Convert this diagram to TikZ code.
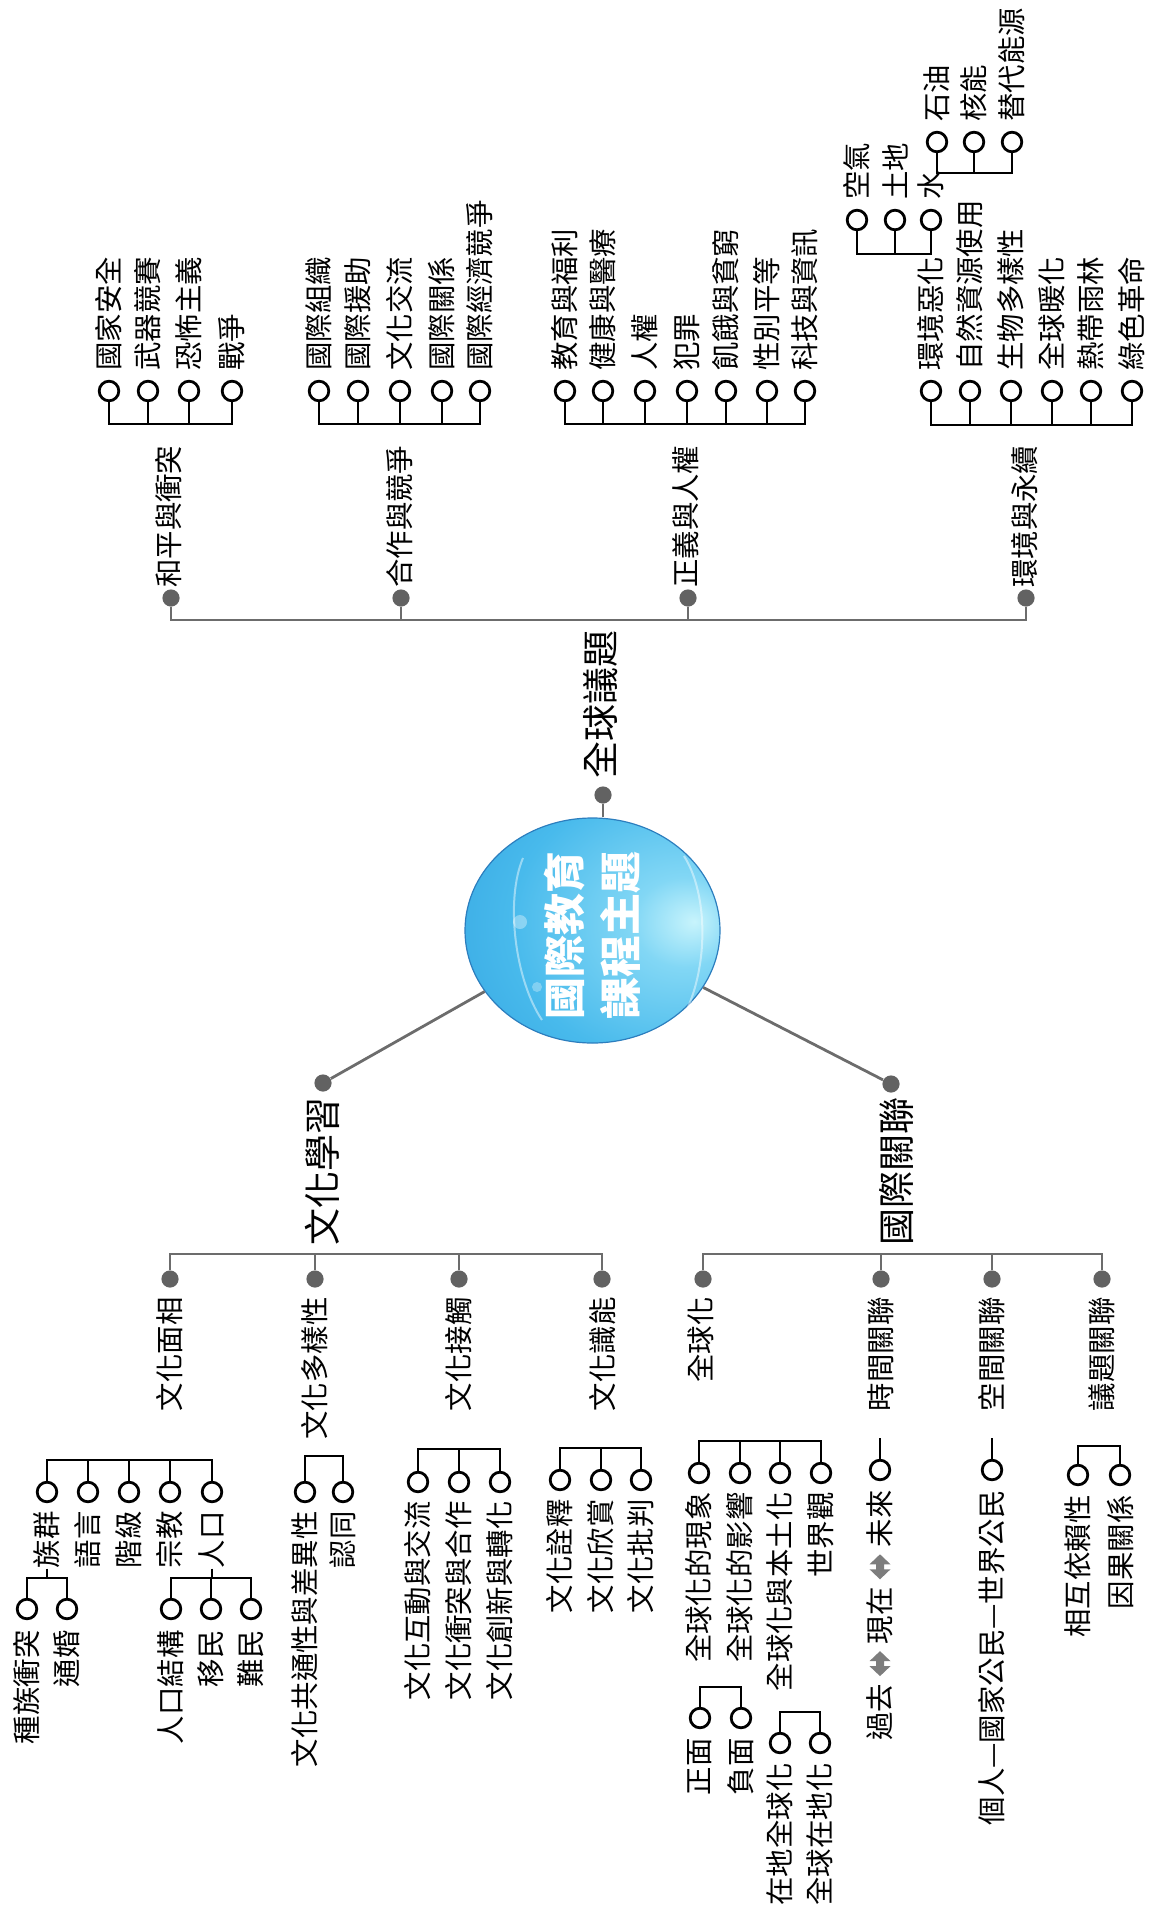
\documentclass[tikz,border=0pt]{standalone}
\usepackage{fontspec}
\setmainfont{Noto Sans CJK TC}
\usetikzlibrary{shapes.geometric}
\definecolor{lgray}{RGB}{108,108,108}
\definecolor{dgray}{RGB}{98,98,98}
\definecolor{orbhi}{RGB}{200,244,252}
\definecolor{orbmid}{RGB}{130,215,245}
\definecolor{orbbase}{RGB}{72,186,236}
\definecolor{orbedge}{RGB}{50,162,224}
\definecolor{orbline}{RGB}{44,126,190}
\definecolor{arrgray}{RGB}{125,125,125}
\pgfdeclareradialshading{orb}{\pgfpoint{20bp}{2bp}}{color(0bp)=(orbhi); color(10bp)=(orbmid); color(30bp)=(orbbase); color(50bp)=(orbedge); color(100bp)=(orbedge)}
\begin{document}
\begin{tikzpicture}[x=0.5pt,y=-0.5pt,
  ring/.style={circle,draw=black,line width=1.4pt,minimum size=9.8pt,inner sep=0pt,fill=white},
  blk/.style={draw=black,line width=1.4pt},
  gry/.style={draw=lgray,line width=1.3pt},
  gdot/.style={circle,fill=dgray,minimum size=8.6pt,inner sep=0pt},
  itemfont/.style={font=\fontsize{14.2}{17}\selectfont},
  up/.style={rotate=90,anchor=west,inner sep=0pt,itemfont},
  dn/.style={rotate=90,anchor=east,inner sep=0pt,itemfont},
  bigfont/.style={font=\fontsize{18.5}{22}\selectfont},
  dblarr/.style={fill=arrgray},
]
\useasboundingbox (0,0) rectangle (1153,1921);

% ---------- root ----------
\node[ellipse,minimum width=127.5pt,minimum height=112.5pt,inner sep=0pt,
      draw=orbline,line width=0.6pt,shading=orb,shade] (root) at (592.5,930.5) {};
\draw[white,opacity=.45,line width=1pt] (523,858) .. controls (505,900) and (515,980) .. (542,1020);
\draw[white,opacity=.45,line width=1pt] (684,856) .. controls (712,900) and (708,990) .. (672,1034);
\fill[white,opacity=.35] (520,922) circle (7);
\fill[white,opacity=.3] (537,987) circle (5);
\node[rotate=90,text=white,align=center,inner sep=0pt,
      font=\fontsize{21}{28}\selectfont\bfseries] (rootlbl) at (592,935.5) {國際教育\\課程主題};

% ---------- global issues branch ----------
\node[gdot] (gd) at (603,795) {};
\draw[gry] (gd) -- (gd |- root.north);
\node[up,bigfont] (glbl) at (601,779) {全球議題};
\coordinate (gbus) at (603,620);
\node[gdot] (t1) at (171,598) {};
\node[gdot] (t2) at (401,598) {};
\node[gdot] (t3) at (688,598) {};
\node[gdot] (t4) at (1026,598) {};
\draw[gry] (t1) |- (gbus) -| (t4);
\draw[gry] (t2) -- (t2 |- gbus);
\draw[gry] (t3) -- (t3 |- gbus);
\node[up] (tl1) at (169,588) {和平與衝突};
\node[up] (tl2) at (400,588) {合作與競爭};
\node[up] (tl3) at (686,588) {正義與人權};
\node[up] (tl4) at (1025,588) {環境與永續};

% group a
\foreach \x/\t [count=\i] in {109/國家安全,148/武器競賽,189/恐怖主義,232/戰爭}{
  \node[ring] (a\i) at (\x,391) {};
  \node[up] (at\i) at (\x,371) {\t};}
\coordinate (ab) at (170,424);
\draw[blk] (a1) |- (ab) -| (a4);
\foreach \i in {2,3} \draw[blk] (a\i) -- (a\i |- ab);

% group b
\foreach \x/\t [count=\i] in {319/國際組織,358/國際援助,400/文化交流,442/國際關係,480/國際經濟競爭}{
  \node[ring] (b\i) at (\x,391) {};
  \node[up] (bt\i) at (\x,371) {\t};}
\coordinate (bb) at (400,424);
\draw[blk] (b1) |- (bb) -| (b5);
\foreach \i in {2,3,4} \draw[blk] (b\i) -- (b\i |- bb);

% group c
\foreach \x/\t [count=\i] in {565/教育與福利,603/健康與醫療,645/人權,687/犯罪,726/飢餓與貧窮,767/性別平等,805/科技與資訊}{
  \node[ring] (c\i) at (\x,391) {};
  \node[up] (ct\i) at (\x,371) {\t};}
\coordinate (cb) at (685,424);
\draw[blk] (c1) |- (cb) -| (c7);
\foreach \i in {2,...,6} \draw[blk] (c\i) -- (c\i |- cb);

% group e
\foreach \x/\t [count=\i] in {931/環境惡化,970/自然資源使用,1011/生物多樣性,1052/全球暖化,1091/熱帶雨林,1132/綠色革命}{
  \node[ring] (e\i) at (\x,391) {};
  \node[up] (et\i) at (\x,371) {\t};}
\coordinate (eb) at (1030,425);
\draw[blk] (e1) |- (eb) -| (e6);
\foreach \i in {2,...,5} \draw[blk] (e\i) -- (e\i |- eb);

% group f
\foreach \x/\t [count=\i] in {857/空氣,895/土地,931/水}{
  \node[ring] (f\i) at (\x,220) {};
  \node[up] (ft\i) at (\x,200) {\t};}
\coordinate (fb) at (894,254);
\draw[blk] (f1) |- (fb) -| (f3);
\draw[blk] (f2) -- (f2 |- fb);

% group h
\foreach \x/\t [count=\i] in {937/石油,974/核能,1012/替代能源}{
  \node[ring] (h\i) at (\x,142) {};
  \node[up] (ht\i) at (\x,122) {\t};}
\coordinate (hb) at (974,173);
\draw[blk] (h1) |- (hb) -| (h3);
\draw[blk] (h2) -- (h2 |- hb);

% ---------- lower branches ----------
\node[gdot] (lw) at (323,1083) {};
\node[gdot] (rw) at (891,1084) {};
\draw[gry,line width=1.4pt] (root) -- (lw);
\draw[gry,line width=1.4pt] (root) -- (rw);
\node[dn,bigfont] (llbl) at (322,1097) {文化學習};
\node[dn,bigfont] (rlbl) at (897,1097) {國際關聯};

\coordinate (lbus) at (386,1254);
\node[gdot] (l1) at (170,1279) {};
\node[gdot] (l2) at (315,1279) {};
\node[gdot] (l3) at (459,1279) {};
\node[gdot] (l4) at (602,1279) {};
\draw[gry] (l1) |- (lbus) -| (l4);
\draw[gry] (l2) -- (l2 |- lbus);
\draw[gry] (l3) -- (l3 |- lbus);

\coordinate (rbus) at (900,1254);
\node[gdot] (r1) at (703,1279) {};
\node[gdot] (r2) at (881,1279) {};
\node[gdot] (r3) at (992,1279) {};
\node[gdot] (r4) at (1102,1279) {};
\draw[gry] (r1) |- (rbus) -| (r4);
\draw[gry] (r2) -- (r2 |- rbus);
\draw[gry] (r3) -- (r3 |- rbus);

\node[dn] (ll1) at (170,1297) {文化面相};
\node[dn] (ll2) at (315,1297) {文化多樣性};
\node[dn] (ll3) at (459,1297) {文化接觸};
\node[dn] (ll4) at (603,1297) {文化識能};
\node[dn] (rl1) at (701,1297) {全球化};
\node[dn] (rl2) at (881,1297) {時間關聯};
\node[dn] (rl3) at (992,1297) {空間關聯};
\node[dn] (rl4) at (1102,1297) {議題關聯};

% group p
\foreach \x/\t [count=\i] in {47/族群,88/語言,129/階級,170/宗教,212/人口}{
  \node[ring] (p\i) at (\x,1492) {};
  \node[dn] (pt\i) at (\x,1511) {\t};}
\coordinate (pb) at (130,1460);
\draw[blk] (p1) |- (pb) -| (p5);
\foreach \i in {2,3,4} \draw[blk] (p\i) -- (p\i |- pb);

% group q
\foreach \x/\t [count=\i] in {27/種族衝突,67/通婚}{
  \node[ring] (q\i) at (\x,1609) {};
  \node[dn] (qt\i) at (\x,1630) {\t};}
\coordinate (qb) at (47,1578);
\draw[blk] (q1) |- (qb) -| (q2);
\draw[blk] (pt1.west) -- (pt1.west |- qb);

% group s
\foreach \x/\t [count=\i] in {171/人口結構,211/移民,251/難民}{
  \node[ring] (s\i) at (\x,1609) {};
  \node[dn] (st\i) at (\x,1630) {\t};}
\coordinate (sb) at (211,1578);
\draw[blk] (s1) |- (sb) -| (s3);
\draw[blk] (s2) -- (s2 |- sb);
\draw[blk] (pt5.west) -- (pt5.west |- sb);

% group u
\foreach \x/\t [count=\i] in {305/文化共通性與差異性,343/認同}{
  \node[ring] (u\i) at (\x,1492) {};
  \node[dn] (ut\i) at (\x,1511) {\t};}
\coordinate (ub) at (324,1456);
\draw[blk] (u1) |- (ub) -| (u2);

% group v
\foreach \x/\t [count=\i] in {418/文化互動與交流,459/文化衝突與合作,500/文化創新與轉化}{
  \node[ring] (v\i) at (\x,1482) {};
  \node[dn] (vt\i) at (\x,1501) {\t};}
\coordinate (vb) at (459,1449);
\draw[blk] (v1) |- (vb) -| (v3);
\draw[blk] (v2) -- (v2 |- vb);

% group w
\foreach \x/\t [count=\i] in {560/文化詮釋,601/文化欣賞,641/文化批判}{
  \node[ring] (w\i) at (\x,1480) {};
  \node[dn] (wt\i) at (\x,1499) {\t};}
\coordinate (wb) at (600,1448);
\draw[blk] (w1) |- (wb) -| (w3);
\draw[blk] (w2) -- (w2 |- wb);

% group k
\foreach \x/\t [count=\i] in {699/全球化的現象,740/全球化的影響,780/全球化與本土化,821/世界觀}{
  \node[ring] (k\i) at (\x,1473) {};
  \node[dn] (kt\i) at (\x,1492) {\t};}
\coordinate (kb) at (760,1441);
\draw[blk] (k1) |- (kb) -| (k4);
\foreach \i in {2,3} \draw[blk] (k\i) -- (k\i |- kb);

% group m
\foreach \x/\t [count=\i] in {700/正面,741/負面}{
  \node[ring] (m\i) at (\x,1718) {};
  \node[dn] (mt\i) at (\x,1738) {\t};}
\coordinate (mb) at (720,1687);
\draw[blk] (m1) |- (mb) -| (m2);

% group n
\foreach \x/\t [count=\i] in {780/在地全球化,820/全球在地化}{
  \node[ring] (n\i) at (\x,1743) {};
  \node[dn] (nt\i) at (\x,1763) {\t};}
\coordinate (nb) at (800,1712);
\draw[blk] (n1) |- (nb) -| (n2);

% time / space
\node[ring] (o1) at (880,1470) {};
\coordinate (ob1) at (880,1438);
\draw[blk] (o1) -- (ob1);
\node[dn] (ot1) at (880,1490) {過去\hspace{20pt}現在\hspace{20pt}未來};
\foreach \d in {38.4pt,86.8pt}
  \fill[dblarr,shift={([yshift=-\d]ot1.east)}] (0,-12.5) -- (10.5,-2.5) -- (4,-2.5) -- (4,2.5) -- (10.5,2.5)
     -- (0,12.5) -- (-10.5,2.5) -- (-4,2.5) -- (-4,-2.5) -- (-10.5,-2.5) -- cycle;
\node[ring] (o2) at (992,1470) {};
\coordinate (ob2) at (992,1438);
\draw[blk] (o2) -- (ob2);
\node[dn] (ot2) at (992,1490) {個人—國家公民—世界公民};

% group z
\foreach \x/\t [count=\i] in {1078/相互依賴性,1120/因果關係}{
  \node[ring] (z\i) at (\x,1475) {};
  \node[dn] (zt\i) at (\x,1495) {\t};}
\coordinate (zb) at (1099,1446);
\draw[blk] (z1) |- (zb) -| (z2);
\end{tikzpicture}
\end{document}
